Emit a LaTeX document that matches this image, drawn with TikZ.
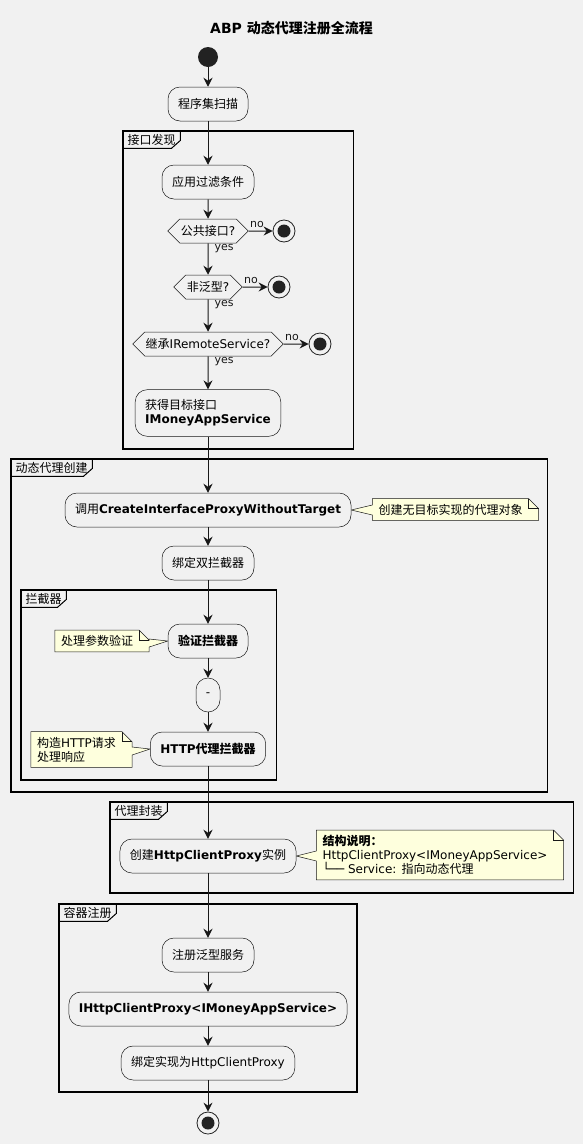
\documentclass[tikz,border=0pt]{standalone}
\usepackage{fontspec}
\setmainfont{DejaVu Sans}
\newfontfamily\cjk{Noto Sans CJK SC}
\usetikzlibrary{shapes.symbols, arrows.meta, calc, backgrounds}
\definecolor{umlbg}{HTML}{F1F1F1}
\definecolor{umlline}{HTML}{181818}
\definecolor{notebg}{HTML}{FEFFDD}
\definecolor{dotfill}{HTML}{222222}
\newcommand{\zh}[1]{{\cjk #1}}
% note to the right of a step, pointer from its left edge
\newcommand{\noteright}[2]{%
  \draw[umlline, line width=0.5pt, fill=notebg]
    (#1.north west) -- (#1.north east) -- ($(#1.north east)+(10,10)$)
    -- ($(#1.south east)+(10,0)$) -- (#1.south west)
    -- ($(#1.west |- #2.east)+(0,5)$) -- (#2.east) -- ($(#1.west |- #2.east)+(0,-5)$) -- cycle;
  \draw[umlline, line width=0.5pt] (#1.north east) -- ++(0,10) -- ++(10,0);
}
% note to the left of a step, pointer from its right edge
\newcommand{\noteleft}[2]{%
  \draw[umlline, line width=0.5pt, fill=notebg]
    (#1.north west) -- (#1.north east) -- ($(#1.north east)+(10,10)$)
    -- ($(#1.east |- #2.west)+(10,-2)$) -- (#2.west) -- ($(#1.east |- #2.west)+(10,6)$)
    -- ($(#1.south east)+(10,0)$) -- (#1.south west) -- cycle;
  \draw[umlline, line width=0.5pt] (#1.north east) -- ++(0,10) -- ++(10,0);
}
\tikzset{
  act/.style={draw=umlline, line width=0.5pt, fill=umlbg, rounded corners=12pt,
    minimum height=34pt, inner xsep=10pt, font=\fontsize{12}{14}\selectfont},
  cond/.style={signal, signal to=west and east, draw=umlline, line width=0.5pt, fill=umlbg,
    minimum height=24pt, inner xsep=1pt, inner ysep=0pt, font=\fontsize{12}{14}\selectfont},
  flow/.style={-{Stealth[length=9pt,width=9pt,inset=3pt]}, umlline, line width=1pt},
  startdot/.style={circle, fill=dotfill, minimum size=20pt, inner sep=0pt},
  stopdot/.style={circle, draw=dotfill, line width=0.8pt, fill=umlbg, minimum size=22pt, inner sep=0pt,
    path picture={\fill[dotfill] (path picture bounding box.center) circle (6.5pt);}},
  guard/.style={font=\fontsize{11}{13}\selectfont, inner sep=1pt},
  memo/.style={inner xsep=6pt, inner ysep=5pt, align=left, font=\fontsize{12}{14}\selectfont},
  partition/.style={draw=black, line width=1.5pt},
  partlabel/.style={anchor=north west, inner xsep=4.5pt, inner ysep=0pt, minimum height=17pt,
    font=\fontsize{12}{14}\selectfont},
  parttab/.style={draw=black, line width=1pt},
}

\begin{document}
\begin{tikzpicture}[x=1pt, y=-1pt]
  \begin{scope}[on background layer]
    \fill[umlbg] (0,0) rectangle (583,1144);
  \end{scope}
  \useasboundingbox (0,0) rectangle (583,1144);

  \node[font=\fontsize{14}{16}\selectfont\bfseries] (title) at (291.5,28) {ABP \zh{动态代理注册全流程}};

  \node[startdot] (start) at (208,57) {};
  \node[act] (scan) at (208,104) {\zh{程序集扫描}};

  % 接口发现
  \draw[partition] (123,131) rectangle (353.5,449);
  \node[partlabel] (p1) at (123,131) {\zh{接口发现}};
  \draw[parttab] (p1.south west) -- ($(p1.south east)+(-9,0)$) -- ($(p1.south east)+(0,-8)$) -- (p1.north east);
  \node[act] (filter) at (208,182) {\zh{应用过滤条件}};
  \node[cond] (pub) at (208,231) {\zh{公共接口}?};
  \node[stopdot] (pubno) at (284,231) {};
  \node[cond] (gen) at (208,287) {\zh{非泛型}?};
  \node[stopdot] (genno) at (279,287) {};
  \node[cond] (rem) at (208,344) {\zh{继承}IRemoteService?};
  \node[stopdot] (remno) at (320,344) {};
  \node[act, align=left, inner ysep=10pt] (target) at (208,413) {\zh{获得目标接口}\\\textbf{IMoneyAppService}};

  % 动态代理创建
  \draw[partition] (11,459) rectangle (547.5,792);
  \node[partlabel] (p2) at (11,459) {\zh{动态代理创建}};
  \draw[parttab] (p2.south west) -- ($(p2.south east)+(-9,0)$) -- ($(p2.south east)+(0,-8)$) -- (p2.north east);
  \node[act] (create) at (208,510) {\zh{调用}\textbf{CreateInterfaceProxyWithoutTarget}};
  \node[memo] (createnote) at (450.5,509.5) {\zh{创建无目标实现的代理对象}};
  \node[act] (bind) at (208,563) {\zh{绑定双拦截器}};

  % 拦截器
  \draw[partition] (21,590) rectangle (276.5,780);
  \node[partlabel] (p3) at (21,590) {\zh{拦截器}};
  \draw[parttab] (p3.south west) -- ($(p3.south east)+(-9,0)$) -- ($(p3.south east)+(0,-8)$) -- (p3.north east);
  \node[act] (valid) at (208,641) {\bfseries\zh{验证拦截器}};
  \node[memo] (validnote) at (97,641) {\zh{处理参数验证}};
  \node[act, minimum width=24pt, inner xsep=0pt] (gap) at (208,695) {-};
  \node[act] (http) at (208,749) {\bfseries HTTP\zh{代理拦截器}};
  \node[memo] (httpnote) at (76.5,749.5) {\zh{构造}HTTP\zh{请求}\\\zh{处理响应}};

  % 代理封装
  \draw[partition] (110,802) rectangle (573.6,893);
  \node[partlabel] (p4) at (110,802) {\zh{代理封装}};
  \draw[parttab] (p4.south west) -- ($(p4.south east)+(-9,0)$) -- ($(p4.south east)+(0,-8)$) -- (p4.north east);
  \node[act] (wrap) at (208,856) {\zh{创建}\textbf{HttpClientProxy}\zh{实例}};
  \node[memo] (wrapnote) at (435,855) {\textbf{\zh{结构说明：}}\\HttpClientProxy<IMoneyAppService>\\└── Service: \zh{指向动态代理}};

  % 容器注册
  \draw[partition] (59,904) rectangle (357,1092);
  \node[partlabel] (p5) at (59,904) {\zh{容器注册}};
  \draw[parttab] (p5.south west) -- ($(p5.south east)+(-9,0)$) -- ($(p5.south east)+(0,-8)$) -- (p5.north east);
  \node[act] (reg) at (208,955) {\zh{注册泛型服务}};
  \node[act] (iface) at (208,1009) {\textbf{IHttpClientProxy<IMoneyAppService>}};
  \node[act] (impl) at (208,1063) {\zh{绑定实现为}HttpClientProxy};
  \node[stopdot] (stop) at (208,1123) {};

  % notes
  \begin{scope}[on background layer]
    \noteright{createnote}{create}
    \noteleft{validnote}{valid}
    \noteleft{httpnote}{http}
    \noteright{wrapnote}{wrap}
  \end{scope}

  % flow
  \draw[flow] (start) -- (scan);
  \draw[flow] (scan) -- (filter);
  \draw[flow] (filter) -- (pub);
  \draw[flow] (pub) -- node[guard, pos=0, anchor=south west, yshift=2pt] {no} (pubno);
  \draw[flow] (pub) -- node[guard, pos=0, anchor=north west, xshift=5pt] {yes} (gen);
  \draw[flow] (gen) -- node[guard, pos=0, anchor=south west, yshift=2pt] {no} (genno);
  \draw[flow] (gen) -- node[guard, pos=0, anchor=north west, xshift=5pt] {yes} (rem);
  \draw[flow] (rem) -- node[guard, pos=0, anchor=south west, yshift=2pt] {no} (remno);
  \draw[flow] (rem) -- node[guard, pos=0, anchor=north west, xshift=5pt] {yes} (target);
  \draw[flow] (target) -- (create);
  \draw[flow] (create) -- (bind);
  \draw[flow] (bind) -- (valid);
  \draw[flow] (valid) -- (gap);
  \draw[flow] (gap) -- (http);
  \draw[flow] (http) -- (wrap);
  \draw[flow] (wrap) -- (reg);
  \draw[flow] (reg) -- (iface);
  \draw[flow] (iface) -- (impl);
  \draw[flow] (impl) -- (stop);
\end{tikzpicture}
\end{document}
